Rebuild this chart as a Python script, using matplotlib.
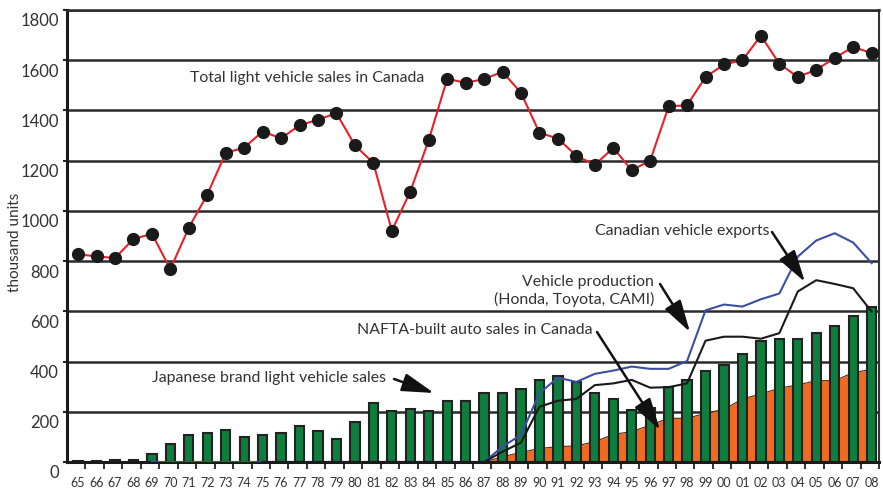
import matplotlib
matplotlib.use("Agg")
import matplotlib.pyplot as plt
import matplotlib.transforms as mtransforms
import numpy as np

years = ["65","66","67","68","69","70","71","72","73","74","75","76","77","78","79",
         "80","81","82","83","84","85","86","87","88","89","90","91","92","93","94",
         "95","96","97","98","99","00","01","02","03","04","05","06","07","08"]

total_sales = [827, 819, 812, 888, 909, 768, 933, 1065, 1231, 1252, 1316, 1289, 1341, 1363, 1389,
               1261, 1191, 921, 1077, 1282, 1526, 1510, 1525, 1554, 1470, 1311, 1288, 1220, 1183, 1251,
               1162, 1200, 1416, 1421, 1533, 1583, 1600, 1698, 1586, 1533, 1562, 1609, 1653, 1628]

japanese_sales = [2, 2, 9, 8, 33, 70, 106, 114, 128, 99, 106, 114, 144, 122, 93,
                  159, 233, 204, 211, 205, 243, 244, 275, 275, 290, 327, 341, 319, 275, 252,
                  207, 215, 298, 327, 364, 386, 432, 483, 491, 491, 514, 543, 580, 617]

# series starting later (year labels from 69 / 75 / 87)
exports_years = years[4:]
exports = [0]*18 + [0, 61, 108, 274, 336, 319, 351, 364, 380, 371, 371, 402, 604, 627,
                    619, 648, 671, 818, 882, 911, 874, 792]

production_years = years[10:]
production = [0]*12 + [0, 41, 77, 220, 244, 251, 306, 313, 327, 296, 298, 313, 483, 499,
                       499, 491, 513, 679, 724, 709, 692, 599]

nafta_years = years[22:]
nafta_sales = [0, 21, 38, 54, 61, 64, 81, 110, 121, 147, 174, 174, 194, 210, 251, 271,
               294, 307, 324, 324, 356, 369]

yticks = [0, 200, 400, 600, 800, 1000, 1200, 1400, 1600, 1800]

FONT = ["Lato", "DejaVu Sans"]
plt.rcParams['font.family'] = FONT
TXT = "#333333"
ANN = 11.4

fig = plt.figure(figsize=(8.83, 4.88), dpi=100)
ax = fig.add_axes([67/883, 1-462/488, (879-67)/883, (462-10)/488])

x = np.arange(len(years))
idx = {y: i for i, y in enumerate(years)}
xe = np.array([idx[y] for y in exports_years])
xp = np.array([idx[y] for y in production_years])
xn = np.array([idx[y] for y in nafta_years])

# gridlines
for v in yticks:
    ax.axhline(v, color="#2a2a2a", lw=1.8, zorder=0)

# NAFTA area
ax.fill_between(xn, 0, nafta_sales, color="#f06a21", lw=0, zorder=1)
ax.plot(xn, nafta_sales, color="#5a2a10", lw=0.8, zorder=1.5)

# Japanese bars
ax.bar(x, japanese_sales, width=0.5, color="#0e7d3e", edgecolor="#222222", lw=1.5, zorder=2)

# exports & production
ax.plot(xe, exports, color="#3c50a2", lw=1.5, zorder=3)
ax.plot(xp, production, color="#1a1a1a", lw=1.5, zorder=3.5)

# total sales
ax.plot(x, total_sales, color="#e8202a", lw=1.5, marker="o", markersize=8.5,
        markerfacecolor="#1a1a1a", markeredgecolor="#1a1a1a", zorder=5)

ax.set_xlim(-0.6, 43.3)
ax.set_ylim(0, 1800)

ax.set_yticks(yticks)
ax.set_yticklabels([str(v) for v in yticks], fontsize=12, color=TXT)
ax.tick_params(axis='y', length=3, width=1.5, pad=3, color="#222222")
off = mtransforms.ScaledTranslation(0, -10/100, fig.dpi_scale_trans)
for lab in ax.get_yticklabels():
    lab.set_transform(lab.get_transform() + off)

ax.set_xticks(x)
ax.set_xticklabels(years, fontsize=9, color=TXT)
ax.set_xticks(x + 0.4, minor=True)
ax.tick_params(axis='x', which='major', length=0, pad=11)
ax.tick_params(axis='x', which='minor', length=5, width=1.3, color="#222222")

for s in ['left', 'bottom']:
    ax.spines[s].set_linewidth(2.2)
    ax.spines[s].set_color("#1a1a1a")
ax.spines['right'].set_linewidth(1.5)
ax.spines['right'].set_color("#333333")
ax.spines['top'].set_linewidth(1.8)
ax.spines['top'].set_color("#2a2a2a")

fig.text(15/883, 1-242/488, "thousand units", rotation=90, ha='center', va='center',
         fontsize=11, color=TXT)

def px(xp_, yp_):
    return (xp_/883, 1-yp_/488)

fig.text(*px(190, 78), "Total light vehicle sales in Canada", fontsize=ANN, color=TXT, va='center', ha='left')
fig.text(*px(152, 378), "Japanese brand light vehicle sales", fontsize=ANN, color=TXT, va='center', ha='left')
fig.text(*px(357, 330), "NAFTA-built auto sales in Canada", fontsize=ANN, color=TXT, va='center', ha='left')
fig.text(*px(654, 282), "Vehicle production", fontsize=ANN, color=TXT, va='center', ha='right')
fig.text(*px(654, 299), "(Honda, Toyota, CAMI)", fontsize=ANN, color=TXT, va='center', ha='right')
fig.text(*px(595, 231), "Canadian vehicle exports", fontsize=ANN, color=TXT, va='center', ha='left')

arrows = [((394, 379), (434, 393)),
          ((597, 332), (660, 430)),
          ((660, 284), (690, 332)),
          ((772, 232), (805, 282))]
for (sx, sy), (tx, ty) in arrows:
    fig.add_artist(matplotlib.patches.FancyArrowPatch(
        px(sx, sy), px(tx, ty), transform=fig.transFigure,
        arrowstyle="-|>,head_length=1.4,head_width=0.4", mutation_scale=14,
        shrinkA=0, shrinkB=0,
        color="#111111", lw=1.8, zorder=10))

fig.savefig("out.png", dpi=100)
